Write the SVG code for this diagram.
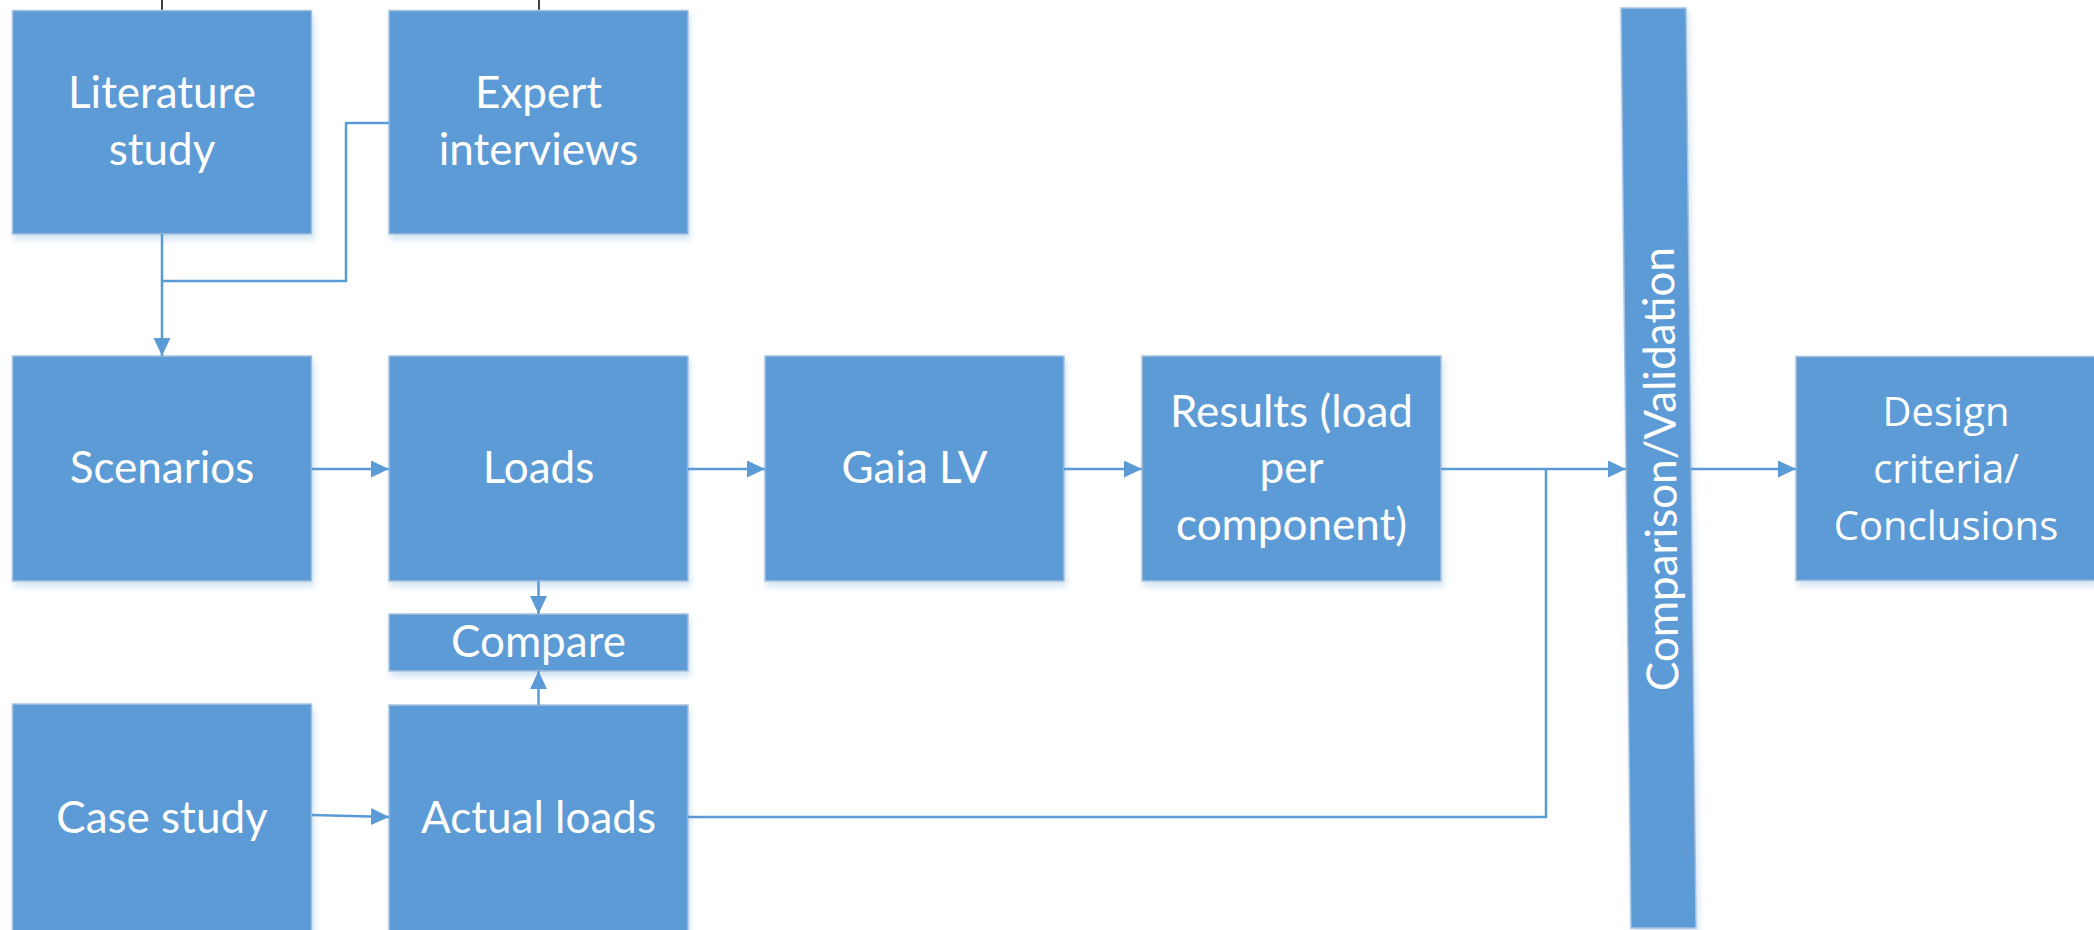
<svg xmlns="http://www.w3.org/2000/svg" width="2094" height="930" viewBox="0 0 2094 930">
<style>
.box{fill:#5B9BD5;stroke:#A9C1DC;stroke-width:1.5;filter:url(#sh)}
.t{font-family:Lato,"Liberation Sans",sans-serif;font-size:44px;fill:#fff;text-anchor:middle}
.t2{font-family:"Open Sans","Liberation Sans",sans-serif;font-size:40px;fill:#fff;text-anchor:middle}
.c{fill:none;stroke:#5B9BD5;stroke-width:2.5}
</style>
<defs>
<filter id="sh" x="-10%" y="-10%" width="125%" height="125%">
<feDropShadow dx="2" dy="5" stdDeviation="3" flood-color="#9DC3E6" flood-opacity="0.45"/>
</filter>
<marker id="ah" markerUnits="userSpaceOnUse" markerWidth="19" markerHeight="18" refX="18" refY="8.5" orient="auto">
<path d="M0,0 L18,8.5 L0,17 z" fill="#5B9BD5"/>
</marker>
</defs>
<g id="ticks" stroke="#000" stroke-width="1.5">
<line x1="162" y1="0" x2="162" y2="10"/>
<line x1="539" y1="0" x2="539" y2="10"/>
</g>
<g id="n-literature"><rect class="box" x="12.5" y="10.5" width="299" height="223.5"/><text class="t" x="162" y="108">Literature</text><text class="t" x="162" y="165">study</text></g>
<g id="n-expert"><rect class="box" x="389" y="10.5" width="299" height="223.5"/><text class="t" x="538.5" y="108">Expert</text><text class="t" x="538.5" y="165">interviews</text></g>
<g id="n-scenarios"><rect class="box" x="12.5" y="356" width="299" height="225"/><text class="t" x="162" y="483">Scenarios</text></g>
<g id="n-loads"><rect class="box" x="389" y="356" width="299" height="225"/><text class="t" x="538.5" y="483">Loads</text></g>
<g id="n-compare"><rect class="box" x="389" y="614" width="299" height="57"/><text class="t" x="538.5" y="657">Compare</text></g>
<g id="n-case"><rect class="box" x="12.5" y="704" width="299" height="232"/><text class="t" x="162" y="833">Case study</text></g>
<g id="n-actual"><rect class="box" x="389" y="705" width="299" height="231"/><text class="t" x="538.5" y="833">Actual loads</text></g>
<g id="n-gaia"><rect class="box" x="765" y="356" width="299" height="225"/><text class="t" x="914.5" y="483">Gaia LV</text></g>
<g id="n-results"><rect class="box" x="1142" y="356" width="299" height="225"/><text class="t" x="1291.5" y="427">Results (load</text><text class="t" x="1291.5" y="483">per</text><text class="t" x="1291.5" y="540">component)</text></g>
<g id="n-comparison"><polygon class="box" points="1621,8 1686,8 1696,928 1631,928"/><text class="t" transform="translate(1676,469) rotate(-90.6)" x="0" y="0">Comparison/Validation</text></g>
<g id="n-design"><rect class="box" x="1796" y="356.5" width="300" height="224"/><text class="t2" x="1946" y="426">Design</text><text class="t2" x="1946" y="483">criteria/</text><text class="t2" x="1946" y="540">Conclusions</text></g>
<g id="connectors">
<path class="c" d="M162,234 V356" marker-end="url(#ah)"/>
<path class="c" d="M389,123 H346 V281 H162"/>
<path class="c" d="M311.5,469 H389" marker-end="url(#ah)"/>
<path class="c" d="M688,469 H765" marker-end="url(#ah)"/>
<path class="c" d="M1064,469 H1142" marker-end="url(#ah)"/>
<path class="c" d="M538.5,581 V614" marker-end="url(#ah)"/>
<path class="c" d="M538.5,705 V671" marker-end="url(#ah)"/>
<path class="c" d="M312,815 L389,817" marker-end="url(#ah)"/>
<path class="c" d="M1441,469 H1626" marker-end="url(#ah)"/>
<path class="c" d="M688,817 H1546 V469"/>
<path class="c" d="M1691,469 H1796" marker-end="url(#ah)"/>
</g>
</svg>
